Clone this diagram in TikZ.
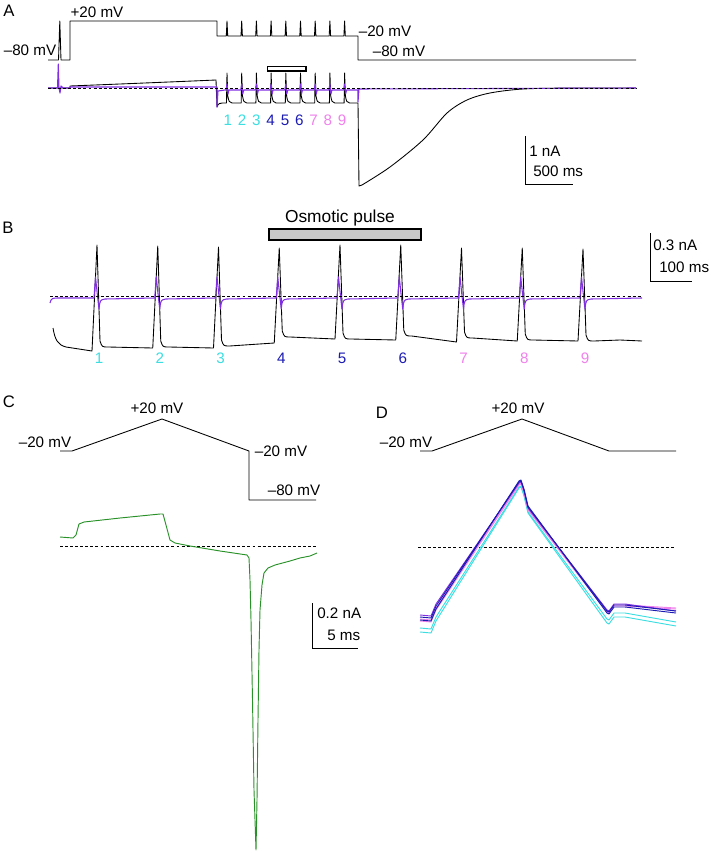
\documentclass[tikz,border=0pt]{standalone}
\usepackage{fontspec}
\setmainfont{Liberation Sans}
\usepackage{tikz}
\usetikzlibrary{calc}
\definecolor{trcyan}{RGB}{60,222,226}
\definecolor{trblue}{RGB}{28,28,180}
\definecolor{trpink}{RGB}{240,130,236}
\definecolor{trpurple}{RGB}{128,48,226}
\definecolor{trgreen}{RGB}{40,145,40}
\definecolor{pulsegray}{RGB}{200,200,200}
\tikzstyle{trace} = [draw, line width=0.65pt, line join=round]
\tikzstyle{ptrace} = [draw=trpurple, line width=0.8pt, line join=round]
\tikzstyle{zero} = [draw, line width=0.5pt, dash pattern=on 2.2pt off 1.6pt]
\tikzstyle{bar} = [draw, line width=0.65pt]
\tikzstyle{lbl} = [inner sep=0pt, font=\fontsize{11.4}{13}\selectfont]
\tikzstyle{panel} = [inner sep=0pt, font=\fontsize{12.5}{14}\selectfont]

\begin{document}
\begin{tikzpicture}[x=0.75pt, y=-0.75pt]
    \useasboundingbox[fill=white] (0,0) rectangle (718,853);

    % panel A
    \node[panel] (pa) at (9,11) {A};
    \draw[trace] (48,60) -- (58.5,60) -- (59.8,21) -- (61,60) -- (70,60) -- (70,21) -- (217,21) -- (217,36)
        \foreach \k in {0,...,8} { -- (226.3+14.7*\k,36) -- (227+14.7*\k,21) -- (227.7+14.7*\k,36) }
        -- (358,36) -- (358,60) -- (636,60);
    \node[lbl] (aplus) at (97,12) {+20 mV};
    \node[lbl] (ahold) at (30,50) {–80 mV};
    \node[lbl] (atrain) at (385,31) {–20 mV};
    \node[lbl] (aend) at (399,51) {–80 mV};
    \draw[trace] (48,88) -- (70,88) -- (70,86) .. controls (120,84) and (170,82) .. (216,80) -- (217,107)
        .. controls (218,103) and (220,103) .. (226,103)
        \foreach \k in {0,...,8} { -- (226.5+14.7*\k,103) -- (227+14.7*\k,73) -- (227.8+14.7*\k,96)
            .. controls (229+14.7*\k,102) .. (232+14.7*\k,103) }
        -- (358,103) -- (359,186)
        -- plot[smooth] coordinates {(362,185) (390,167) (423,140) (447,113) (467,100) (490,93) (523,89) (573,88) (636,88)};
    \draw[ptrace] (48,88) -- (57.5,88) -- (58.3,64) -- (59,88) -- (60,93) -- (61,86) -- (63,88) -- (70,88) -- (70,87) -- (217,87)
        -- (217,107) -- (218,91) -- (225,90)
        \foreach \k in {0,...,8} { -- (226+14.7*\k,90) -- (227+14.7*\k,84) -- (228+14.7*\k,94) -- (229+14.7*\k,90) }
        -- (358,90) -- (358,102) -- (359,89) -- (636,88);
    \draw[zero] (48,88) -- (636,88);
    \draw[line width=1.3pt, fill=white] (267.5,66.5) rectangle (306,71);
    \foreach \n/\col in {1/trcyan, 2/trcyan, 3/trcyan, 4/trblue, 5/trblue, 6/trblue, 7/trpink, 8/trpink, 9/trpink}
        \node[lbl, text=\col] (anum\n) at (213.5+14.3*\n,120) {\n};
    \draw[bar] (525,136) -- (525,184) -- (573,184);
    \node[lbl, anchor=west] (ascalei) at (529,151) {1 nA};
    \node[lbl, anchor=west] (ascalet) at (533,171) {500 ms};

    % panel B
    \node[panel] (pb) at (8,228) {B};
    \node[lbl, font=\fontsize{13}{15}\selectfont, anchor=base] (osmo) at (340,222) {Osmotic pulse};
    \draw[fill=pulsegray, line width=0.9pt] (269,229) rectangle (421,240);
    \draw[trace] (53,328) .. controls (55,340) and (58,345) .. (66,347) -- (92,351)
        \foreach \x/\lo/\hi/\pk in {97/351/347/245, 157.75/348/347/246, 218.5/348/346/247, 279.25/343/337/248,
            340/339/339/245, 400.75/340/336/245, 461.5/342/338/248, 522.25/341/340/248, 583/341/341/249}
            { -- (\x-5,\lo) -- (\x,\pk) -- (\x+3,\hi-6) .. controls (\x+5,\hi) .. (\x+11,\hi) }
        -- (620,340) -- (642,341);
    \draw[ptrace] (50,303) .. controls (51,298) and (53,298) .. (58,298)
        \foreach \x in {97, 157.75, 218.5, 279.25, 340, 400.75, 461.5, 522.25, 583}
            { -- (\x-3,298) -- (\x-1.5,277) -- (\x+0.5,296) -- (\x+2,309) .. controls (\x+3,300) .. (\x+8,299) }
        -- (642,298);
    \draw[zero] (50,296) -- (642,296);
    \foreach \n/\x/\col in {1/97/trcyan, 2/157.75/trcyan, 3/218.5/trcyan, 4/279.25/trblue, 5/340/trblue,
        6/400.75/trblue, 7/461.5/trpink, 8/522.25/trpink, 9/583/trpink}
        \node[lbl, text=\col] (bnum\n) at (\x+2,358) {\n};
    \draw[bar] (650,233) -- (650,281) -- (692,281);
    \node[lbl, anchor=west] (bscalei) at (653,245) {0.3 nA};
    \node[lbl, anchor=west] (bscalet) at (659,267) {100 ms};

    % panel C
    \node[panel] (pc) at (9,402) {C};
    \draw[trace] (60,451) -- (72,451) -- (162,419) -- (249,451) -- (249,500) -- (316,500);
    \node[lbl] (cstart) at (45,442) {–20 mV};
    \node[lbl] (cpeak) at (157,408) {+20 mV};
    \node[lbl] (cback) at (281,451) {–20 mV};
    \node[lbl] (chold) at (294,490) {–80 mV};
    \draw[zero] (60,546) -- (317,546);
    \draw[draw=trgreen, line width=0.7pt, line join=round] (60,537) -- (73,538) -- (76,535) -- (79,524) -- (84,522) -- (120,518)
        -- (160,514) -- (163,514) -- (166,525) -- (170,540) -- (175,543) -- (190,546) -- (220,551) -- (247,555) -- (249,558)
        -- (250,580) -- (251,620) -- (252.5,700) -- (254,790) -- (256,850) -- (257,800) -- (258,720) -- (259,650) -- (260,610)
        -- (262,585) -- (264,573) -- (268,568) -- (275,565) -- (290,561) -- (300,558) -- (310,556) -- (317,553);
    \draw[bar] (312,603) -- (312,648) -- (358,648);
    \node[lbl, anchor=west] (cscalei) at (317,613) {0.2 nA};
    \node[lbl, anchor=west] (cscalet) at (327,635) {5 ms};

    % panel D
    \node[panel] (pd) at (382,413) {D};
    \draw[trace] (420,451) -- (432,451) -- (522,419) -- (609,451) -- (676,451);
    \node[lbl] (dstart) at (406,442) {–20 mV};
    \node[lbl] (dpeak) at (518,408) {+20 mV};
    \draw[zero] (418,547) -- (675,547);
    \foreach \col/\s/\pk/\m/\e in {trcyan/632/488/623/626, trcyan/628/487/619/622, trpink/621/485/612/609,
        trpink/619/484/611/608, trpurple/615/483/610/611, trblue/620/481/613/613, trblue/617/482/611/611}
        \draw[draw=\col, line width=0.7pt, line join=round] (420,\s) -- (431,\s+1) -- (436,\s-11) -- (519,\pk) -- (521,\pk-1)
            -- (524,\pk+8) -- (528,\pk+25) -- (607,\m) -- (609,\m+1) -- (614,\m-6) -- (625,\m-6) -- (676,\e);
\end{tikzpicture}
\end{document}
